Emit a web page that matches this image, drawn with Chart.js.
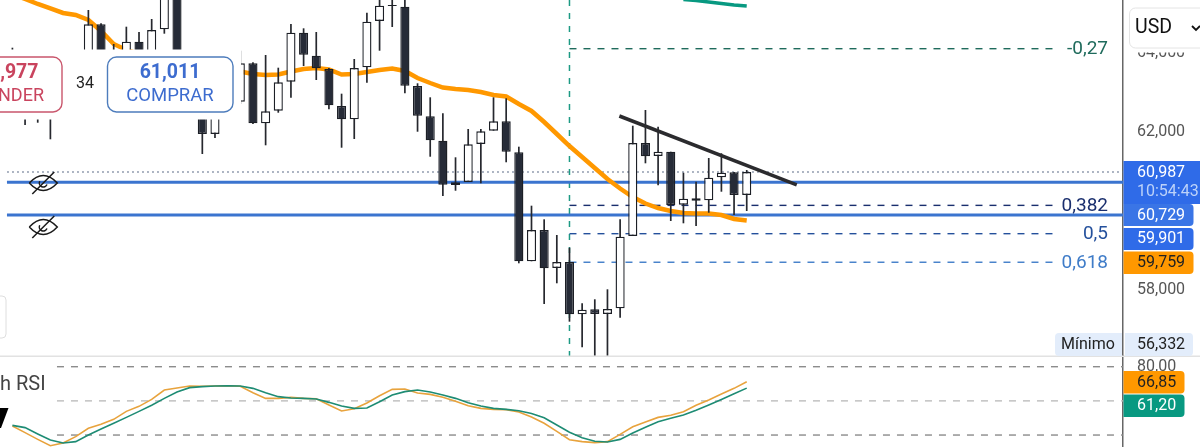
<!DOCTYPE html>
<html>
<head>
<meta charset="utf-8">
<title>Chart</title>
<script src="https://cdn.jsdelivr.net/npm/chart.js@4/dist/chart.umd.min.js"></script>
<style>
  html, body { margin: 0; padding: 0; background: #fff; overflow: hidden; }
  canvas { display: block; }
</style>
</head>
<body>
<canvas id="chart" width="1200" height="447"></canvas>
<script>
// candles, oldest first
const opens = [63316,62937,62683,63443,63316,63823,63570,64727,63443,63823,64286,63823,64600,65700,62810,62607,61949,63063,62767,63739,62220,62539,63273,64514,63932,63595,62658,62321,63638,64810,65215,65172,63164,62397,61780,60658,60734,61696,62033,62271,61486,58726,59518,58556,58708,57384,57510,57392,57536,59366,61721,61392,61501,60159,60321,60270,60853,60979,60405];
const closes = [63823,62557,63063,62810,63823,63443,64727,63570,63949,64286,63823,64582,65595,63190,63570,61949,62683,62506,63739,62220,62524,63258,64514,63957,63613,62676,62321,63620,64793,65198,65190,63172,62412,61790,60665,60726,61688,62017,62271,61501,58726,59518,58549,58708,57384,57500,57392,57518,59349,61721,61384,61501,60151,60311,60260,60843,60969,60405,60987];
const highs = [64134,63190,63316,63823,64025,64025,65089,64752,64228,64666,64532,64861,65700,65800,63823,62810,62937,63316,64058,63765,63949,63628,64734,64625,64532,63620,62970,63848,65020,65400,65400,65400,63233,62878,62473,61359,62076,62076,62878,62853,61628,60134,59789,59392,59070,57662,57764,58017,59789,62159,62557,62134,61501,60969,60741,61341,61461,60987,61038];
const lows = [62810,62177,62235,61815,63063,62810,63316,63190,63190,63570,63443,63570,64489,62937,62557,61443,61848,62354,62709,62202,61663,62488,62868,63671,63316,62575,61602,61823,63248,64058,64658,62980,62007,61374,60379,60513,60734,60701,62033,61233,58675,58726,57645,58169,57197,56548,56332,56332,57298,59366,61207,60650,59746,59688,59620,59956,60488,59898,60000];
const emaOrange = [65494,65367,65241,65127,65013,64962,64836,64557,64228,64076,63975,63873,63823,63772,63722,63671,63620,63570,63532,63468,63443,63456,63532,63595,63620,63582,63456,63468,63519,63570,63608,63544,63367,63240,63126,63089,63063,63013,62937,62899,62709,62532,62253,61949,61645,61367,61088,60810,60569,60354,60189,60075,60000,59949,59936,59936,59898,59797,59759];
// short piece of the other average at the top, last six candles only
const emaTeal = [65355,65329,65291,65253,65215,65190];

// stoch rsi
const stochD = [27.9,22.1,16.2,10.6,13.0,18.6,25.9,29.4,33.8,40.8,45.2,51.3,59.5,61.3,63.0,62.8,63.0,63.3,62.8,57.2,52.2,52.2,53.1,52.2,51.9,46.4,41.1,43.1,48.1,54.5,60.1,60.4,56.9,55.7,53.1,49.6,45.8,43.4,42.5,42.3,40.2,35.8,30.3,23.2,15.9,14.2,13.3,14.2,20.6,27.3,31.4,35.5,37.3,40.5,46.1,50.8,56.0,61.0,66.85];
const stochK = [28.5,26.5,20.9,15.6,13.0,14.2,20.0,25.3,30.3,35.5,40.8,46.1,52.2,57.8,61.6,62.5,63.0,63.3,63.0,61.0,57.2,53.7,52.5,52.2,51.6,48.7,45.5,43.4,43.7,49.3,55.1,58.1,59.5,57.8,55.1,52.2,48.4,45.5,43.4,42.5,41.4,39.0,35.2,28.8,22.4,17.7,14.5,13.9,16.2,21.8,26.8,31.7,34.7,37.6,41.7,46.4,51.3,56.3,61.20];
const stochBands = [80, 50, 20];

const priceTicks = [58000, 62000, 64000];
const rsiTicks = [80];
const fibLevels = [
  { name: '-0,27', price: 64109, color: '#1f6b5c' },
  { name: '0,382', price: 60142, color: '#1a2f6e' },
  { name: '0,5', price: 59425, color: '#24509c' },
  { name: '0,618', price: 58702, color: '#3f7cc8' }
];
const blueLevels = [60729, 59901];
const lastPrice = 60987;
const trendLine = [{ x: 47.94, y: 62405 }, { x: 61.95, y: 60658 }];

const n = opens.length;
const xs = opens.map((_, i) => i);
const toPoints = (arr, start = 0) => arr.map((y, i) => ({ x: i + start, y }));
const hline = (x0, x1, y) => [{ x: x0, y }, { x: x1, y }];

const DARK = '#262b37';
const FONT = 'Roboto';

const datasets = [
  { type: 'line', data: trendLine, borderColor: '#2b2b2e', borderWidth: 3.5, order: 0 },
  { type: 'line', data: toPoints(emaTeal, n - emaTeal.length), borderColor: '#089981', borderWidth: 3.5, order: 1 },
  {
    type: 'bar',
    data: xs.map(i => ({ x: i, y: [opens[i], closes[i]] })),
    backgroundColor: xs.map(i => closes[i] >= opens[i] ? '#ffffff' : DARK),
    borderColor: '#1c1f26',
    borderWidth: 1.4,
    borderSkipped: false,
    grouped: false,
    maxBarThickness: 9.5,
    order: 2
  },
  {
    type: 'bar',
    data: xs.map(i => ({ x: i, y: [lows[i], highs[i]] })),
    backgroundColor: '#26282e',
    grouped: false,
    maxBarThickness: 1.7,
    order: 3
  },
  { type: 'line', data: toPoints(emaOrange), borderColor: '#ff9800', borderWidth: 4.5, order: 4 },
  { type: 'line', data: hline(-0.43, 87.72, blueLevels[0]), borderColor: '#3b74cf', borderWidth: 3, order: 5 },
  { type: 'line', data: hline(-0.43, 87.72, blueLevels[1]), borderColor: '#3b74cf', borderWidth: 3, order: 5 }
];
fibLevels.forEach(f => {
  datasets.push({ type: 'line', data: hline(44, 82.6, f.price), borderColor: f.color, borderWidth: 1.4, borderDash: [7, 7], order: 6 });
});
datasets.push(
  { type: 'line', data: hline(-0.43, 87.72, lastPrice), borderColor: '#5a6a85', borderWidth: 1.2, borderDash: [2, 3], order: 7 },
  { type: 'line', data: [{ x: 44, y: 65342 }, { x: 44, y: 56328 }], borderColor: '#1d9a84', borderWidth: 1.5, borderDash: [6, 7], order: 8 }
);
stochBands.forEach(b => {
  datasets.push({ type: 'line', yAxisID: 'rsi', data: hline(3.52, 87.72, b), borderColor: b === 50 ? '#bdbdbd' : '#8c8c8c', borderWidth: 1.4, borderDash: [7, 7], order: 9 });
});
datasets.push(
  { type: 'line', yAxisID: 'rsi', data: toPoints(stochK), borderColor: '#1e8c74', borderWidth: 1.6, order: 0 },
  { type: 'line', yAxisID: 'rsi', data: toPoints(stochD), borderColor: '#e8a33d', borderWidth: 1.6, order: 1 }
);

function tag(ctx, x, y, w, h, color, r) {
  ctx.fillStyle = color;
  ctx.beginPath();
  ctx.roundRect(x, y, w, h, r);
  ctx.fill();
}

function label(ctx, text, x, y, font, color, align = 'left') {
  ctx.font = font;
  ctx.fillStyle = color;
  ctx.textAlign = align;
  ctx.textBaseline = 'middle';
  ctx.fillText(text, x, y + 1);
}

function eye(ctx, cx, cy) {
  ctx.strokeStyle = '#1a1a1a';
  ctx.lineWidth = 1.5;
  ctx.beginPath();
  ctx.moveTo(cx - 14, cy);
  ctx.quadraticCurveTo(cx, cy - 15, cx + 14, cy);
  ctx.quadraticCurveTo(cx, cy + 15, cx - 14, cy);
  ctx.stroke();
  ctx.beginPath();
  ctx.arc(cx, cy, 4, 0.4, 3.6);
  ctx.stroke();
  ctx.beginPath();
  ctx.moveTo(cx - 11, cy + 11);
  ctx.lineTo(cx + 11, cy - 11);
  ctx.stroke();
}

// y axes must fill their panes, no room left for tick labels
function fitAxis(s) {
  s.width = 77;
  s.paddingTop = 0;
  s.paddingBottom = 0;
}

// order bubbles, price tags and the rest of the app chrome
const overlays = {
  id: 'overlays',
  afterDatasetsDraw(chart) {
    const ctx = chart.ctx;
    ctx.save();
    // bubbles hide the candles behind them
    ctx.fillStyle = '#fff';
    ctx.fillRect(0, 49.5, 241, 70);

    ctx.strokeStyle = '#c9566c';
    ctx.lineWidth = 1.4;
    ctx.beginPath();
    ctx.roundRect(-40, 57, 102, 55, 9);
    ctx.stroke();
    label(ctx, ',977', 38.5, 72, '700 19.5px ' + FONT, '#c9445e', 'right');
    label(ctx, 'NDER', 44, 95, '400 18px ' + FONT, '#c9445e', 'right');
    label(ctx, '34', 85, 83, '400 16px ' + FONT, '#222', 'center');

    ctx.strokeStyle = '#4d7cbc';
    ctx.beginPath();
    ctx.roundRect(107.5, 57, 125.5, 55, 9);
    ctx.stroke();
    label(ctx, '61,011', 170, 72, '700 19.5px ' + FONT, '#3d6ccf', 'center');
    label(ctx, 'COMPRAR', 170, 95, '400 18.5px ' + FONT, '#3d6ccf', 'center');

    eye(ctx, 43.3, 183);
    eye(ctx, 43.3, 227);

    ctx.strokeStyle = '#dedede';
    ctx.lineWidth = 1;
    ctx.beginPath();
    ctx.roundRect(-10, 296, 16, 42, 4);
    ctx.stroke();

    fibLevels.forEach(f => {
      const y = chart.scales.y.getPixelForValue(f.price);
      label(ctx, f.name, 1108, y, '400 19px ' + FONT, f.color, 'right');
    });

    // pane separator
    ctx.fillStyle = '#e2e2e2';
    ctx.fillRect(0, 355.5, 1200, 1.5);

    // rsi chrome
    label(ctx, 'h RSI', 0, 384, '400 20px ' + FONT, '#444');
    ctx.fillStyle = '#000';
    ctx.beginPath();
    ctx.moveTo(0, 408);
    ctx.lineTo(8.5, 408);
    ctx.lineTo(1, 428);
    ctx.lineTo(0, 428);
    ctx.fill();

    // USD selector
    ctx.fillStyle = '#fff';
    ctx.fillRect(1124, 0, 76, 52.5);
    ctx.strokeStyle = '#e4e4e4';
    ctx.beginPath();
    ctx.roundRect(1129.5, 8, 90, 40, 6);
    ctx.stroke();
    label(ctx, 'USD', 1135, 27, '400 19.5px ' + FONT, '#111');
    ctx.strokeStyle = '#111';
    ctx.lineWidth = 1.8;
    ctx.beginPath();
    ctx.moveTo(1192, 26);
    ctx.lineTo(1196, 30);
    ctx.lineTo(1200, 26);
    ctx.stroke();

    // price tags
    const f15 = '400 16px ' + FONT;
    tag(ctx, 1123.5, 161, 77, 43, '#2f6be8', 0);
    label(ctx, lastPrice.toLocaleString('en-US'), 1137, 172, f15, '#fff');
    label(ctx, '10:54:43', 1137, 191, f15, '#bcd2f9');
    tag(ctx, 1123.5, 204, 70, 22, '#3a75e6', [0, 4, 4, 0]);
    label(ctx, blueLevels[0].toLocaleString('en-US'), 1137, 214.5, f15, '#fff');
    tag(ctx, 1123.5, 228, 70, 22, '#2f6be8', [0, 4, 4, 0]);
    label(ctx, blueLevels[1].toLocaleString('en-US'), 1137, 238, f15, '#fff');
    tag(ctx, 1123.5, 251.5, 70, 22.5, '#ff9800', [0, 4, 4, 0]);
    label(ctx, emaOrange[n - 1].toLocaleString('en-US'), 1137, 262, f15, '#222');

    tag(ctx, 1055, 333, 67, 23, '#e3edfb', [4, 0, 0, 4]);
    label(ctx, 'Mínimo', 1061, 344, f15, '#222');
    tag(ctx, 1125, 333, 68, 23, '#e3edfb', [0, 4, 4, 0]);
    label(ctx, lows[46].toLocaleString('en-US'), 1137, 344, f15, '#222');

    tag(ctx, 1123.5, 371, 61, 22.5, '#ff9800', [0, 4, 4, 0]);
    label(ctx, String(stochD[n - 1]).replace('.', ','), 1137, 381.5, f15, '#222');
    tag(ctx, 1123.5, 394.5, 61, 22.5, '#089981', [0, 4, 4, 0]);
    label(ctx, stochK[n - 1].toFixed(2).replace('.', ','), 1137, 405, f15, '#fff');
    ctx.restore();
  }
};

new Chart(document.getElementById('chart'), {
  data: { datasets },
  plugins: [overlays],
  options: {
    responsive: false,
    animation: false,
    parsing: { xAxisKey: 'x', yAxisKey: 'y' },
    layout: { padding: 0 },
    elements: {
      point: { radius: 0 },
      line: { tension: 0, borderCapStyle: 'butt', fill: false }
    },
    plugins: { legend: { display: false }, tooltip: { enabled: false } },
    scales: {
      x: { type: 'linear', display: false, min: -0.98, max: 87.72, offset: false },
      y: {
        type: 'linear', position: 'right', stack: 'panes', stackWeight: 356,
        min: 56328, max: 65342,
        afterFit: fitAxis,
        afterBuildTicks: s => { s.ticks = priceTicks.map(value => ({ value })); },
        grid: { display: false, drawTicks: false },
        border: { display: true, color: '#666', width: 1.5 },
        ticks: { autoSkip: false, padding: 14, color: '#555', font: { family: FONT, size: 16 }, callback: v => v.toLocaleString('en-US') }
      },
      rsi: {
        type: 'linear', position: 'right', stack: 'panes', stackWeight: 91,
        min: 9.5, max: 89.4,
        afterFit: fitAxis,
        afterBuildTicks: s => { s.ticks = rsiTicks.map(value => ({ value })); },
        grid: { display: false, drawTicks: false },
        border: { display: true, color: '#666', width: 1.5 },
        ticks: { autoSkip: false, padding: 14, color: '#555', font: { family: FONT, size: 16 }, callback: v => v + ',00' }
      }
    }
  }
});
</script>
</body>
</html>
